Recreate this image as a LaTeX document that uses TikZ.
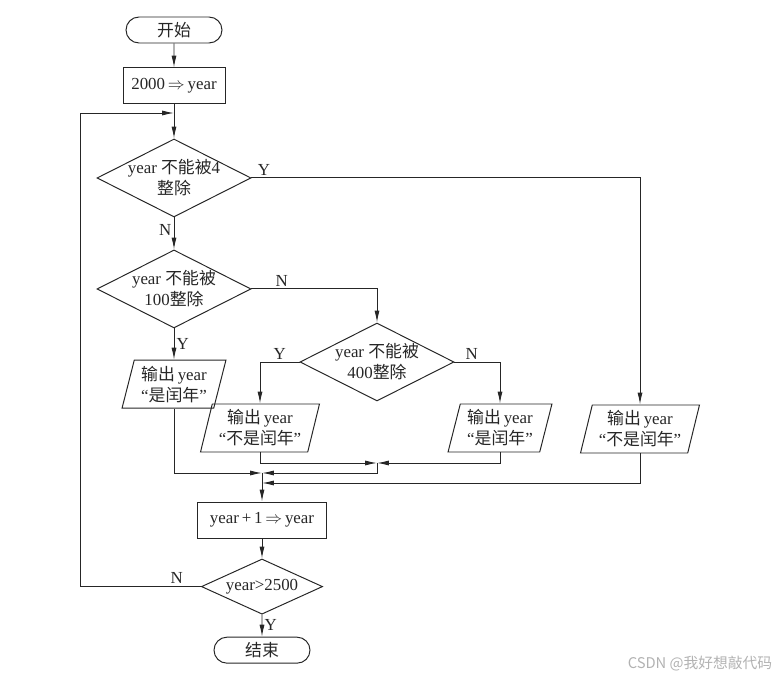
\documentclass[tikz,border=0pt]{standalone}
\usepackage{fontspec}
\usepackage{tikz}
\usetikzlibrary{shapes.geometric,shapes.misc,arrows.meta,positioning}
\setmainfont{Liberation Serif}
\newfontfamily\cjk{Noto Sans CJK SC}
\newcommand{\zhs}[1]{{\cjk #1}}
\definecolor{ink}{gray}{0.15}
\tikzset{term node/.style={rounded rectangle,draw,line width=0.7pt,minimum width=2.4cm,minimum height=0.65cm,inner sep=0pt},}
\tikzset{block/.style={rectangle,draw,line width=0.7pt,minimum height=0.9cm,inner sep=0pt},align=center}
\tikzset{dec node/.style={diamond,draw,line width=0.7pt,aspect=2,inner sep=-3pt,minimum width=3.85cm,minimum height=1.95cm,align=center}}
\tikzset{io node/.style={trapezium,trapezium left angle=74,trapezium right angle=106,trapezium stretches=true,draw,line width=0.7pt,minimum height=1.2cm,inner xsep=1pt,inner ysep=0pt,align=center}}
\tikzset{lbl/.style={inner sep=1.5pt}}
\tikzstyle{arrow} = [line width=0.7pt,->,>={Latex[length=8.5pt,width=3.6pt]}]

\begin{document}
\begin{tikzpicture}[color=ink]
  \fontsize{12}{15}\selectfont
  \useasboundingbox (0,0) rectangle (19.475,-17);
    \node[term node] (1) at (4.35,-0.75) {\zhs{开始}};
    \node[block,minimum width=2.55cm] (2) [below=0.6cm of 1] {2000\,$\Rightarrow$\,year};
    \node[dec node] (3) [below=0.85cm of 2] {year \zhs{不能被}4\\\zhs{整除}};
    \node[dec node] (4) [below=0.8cm of 3] {year \zhs{不能被}\\100\zhs{整除}};
    \node[io node,minimum width=2.6cm] (5) [below=0.78cm of 4] {\zhs{输出}\,year\\“\zhs{是闰年}”};

    \node[dec node] (6) at (9.425,-9.05) {year \zhs{不能被}\\400\zhs{整除}};
    \node[io node,minimum width=2.98cm] (7) at (6.5,-10.7) {\zhs{输出}\,year\\“\zhs{不是闰年}”};
    \node[io node,minimum width=2.6cm] (8) at (12.5,-10.7) {\zhs{输出}\,year\\“\zhs{是闰年}”};
    \node[io node,minimum width=2.98cm] (9) at (16,-10.725) {\zhs{输出}\,year\\“\zhs{不是闰年}”};

    \node[block,minimum width=3.23cm] (10) at (6.55,-13) {year\,+\,1\,$\Rightarrow$\,year};
    \node[dec node,minimum width=3.03cm,minimum height=1.38cm] (11) [below=0.5cm of 10] {year>2500};
    \node[term node] (12) [below=0.55cm of 11] {\zhs{结束}};

    \node[text=black!30,font=\cjk\fontsize{10.5}{12}\selectfont] (13) at (17.5,-16.6) {CSDN @我好想敲代码};

    \coordinate (j1) at (9.425,-11.575);
    \coordinate (j2) at (6.55,-11.825);
    \coordinate (j3) at (6.55,-12.075);
    \coordinate (lp) at (2,-2.825);
    \coordinate (li) at (4.35,-2.825);

   	\draw [arrow] (1) -- (2);
   	\draw [arrow] (2) -- (3);
   	\draw [arrow] (3) -- node[lbl,left,pos=0.4] {N} (4);
   	\draw [arrow] (3.east) -| node[lbl,pos=0.005,above right] {Y} (9.north);
   	\draw [arrow] (4.east) -| node[lbl,pos=0.12,above] {N} (6.north);
   	\draw [arrow] (4.south) -- node[lbl,right] {Y} (4.south |- 5.north);
   	\draw [arrow] (6.west) -| node[lbl,pos=0.25,above] {Y} (7.north);
   	\draw [arrow] (6.east) -| node[lbl,pos=0.19,above] {N} (8.north);

   	\draw [arrow] (7.south) |- (j1);
   	\draw [arrow] (8.south) |- (j1);
   	\draw [arrow] (j1) |- (j2);
   	\draw [arrow] (5.south) |- (j2);
   	\draw [arrow] (9.south) |- (j3);
   	\draw [arrow] (j2) -- (10);
   	\draw [arrow] (10) -- (11);
   	\draw [arrow] (11) -- node[lbl,right,pos=0.45] {Y} (12);
   	\draw [arrow] (11.west) -| node[lbl,pos=0.1,above] {N} (lp) -- (li);
\end{tikzpicture}
\end{document}
